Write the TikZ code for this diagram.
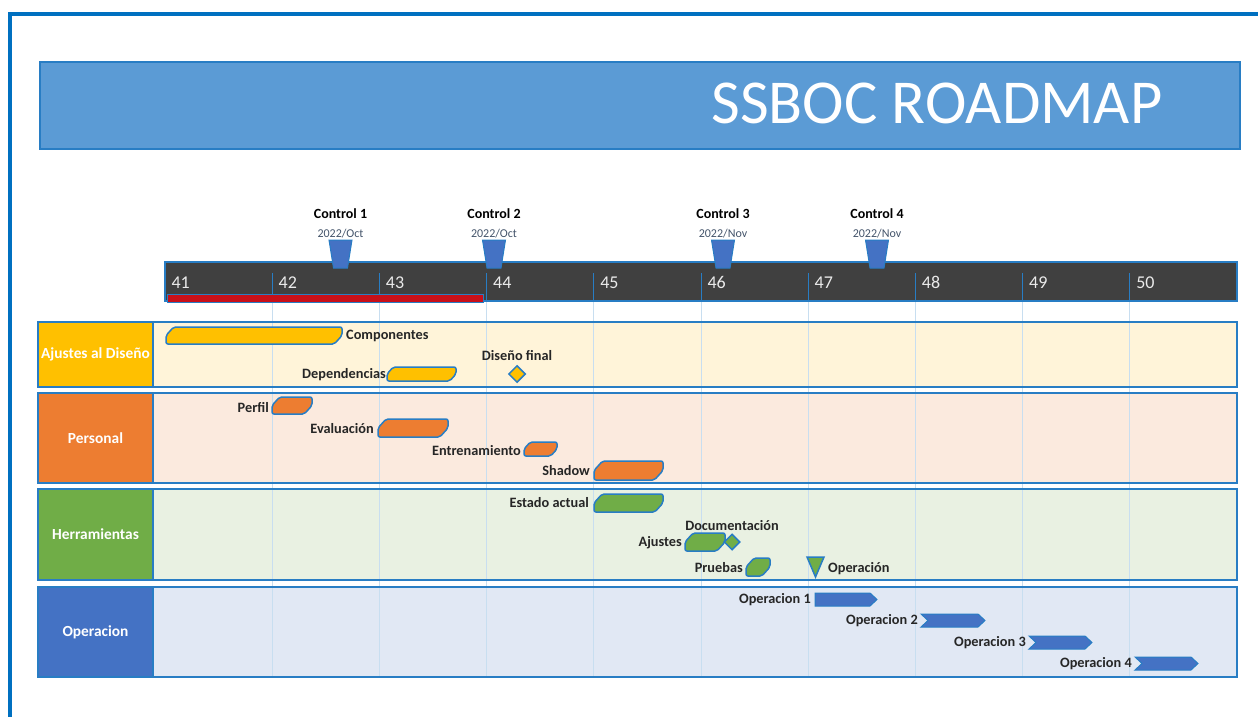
\documentclass[tikz,border=0pt]{standalone}
\usepackage{fontspec}
\setmainfont{Carlito}
\usetikzlibrary{shapes.geometric}

\definecolor{frame_blue}{RGB}{0,112,192}
\definecolor{edge_blue}{RGB}{40,125,196}
\definecolor{title_blue}{RGB}{91,155,213}
\definecolor{gate_blue}{RGB}{68,114,196}
\definecolor{date_gray}{RGB}{68,84,106}
\definecolor{head_gray}{RGB}{64,64,64}
\definecolor{late_red}{RGB}{200,16,26}
\definecolor{grid_blue}{RGB}{200,222,240}
\definecolor{design_yellow}{RGB}{255,192,0}
\definecolor{staff_orange}{RGB}{237,125,49}
\definecolor{tools_green}{RGB}{112,173,71}
\definecolor{ops_blue}{RGB}{68,114,196}
\definecolor{design_bg}{RGB}{255,244,217}
\definecolor{staff_bg}{RGB}{251,234,222}
\definecolor{tools_bg}{RGB}{233,241,226}
\definecolor{ops_bg}{RGB}{225,232,244}

\tikzset{
  bar_edge/.style={draw=edge_blue, line width=1.5pt, rounded corners=2pt},
  tasklabel/.style={font=\bfseries\fontsize{14.3}{16}\selectfont, text=black!85, inner sep=1pt},
  lanelabel/.style={font=\bfseries\fontsize{15.4}{17}\selectfont, text=white},
  weeklabel/.style={font=\fontsize{18}{20}\selectfont, text=white!92!black, anchor=west},
  gatelabel/.style={font=\bfseries\fontsize{14}{16}\selectfont},
  gatedate/.style={font=\fontsize{12}{14}\selectfont, text=date_gray},
  gate/.style={draw=edge_blue, line width=1pt, fill=gate_blue},
  keypoint/.style={diamond, draw=edge_blue, line width=1.5pt, inner sep=0pt, minimum size=17pt}
}

% task bar: colour, left, right, top, bottom
\newcommand{\taskbar}[5]{%
  \draw[bar_edge, fill=#1] ({#2+0.45*(#5-#4)},#4) -- (#3,#4) -- (#3,{0.5*(#4+#5)})
    -- ({#3-0.45*(#5-#4)},#5) -- (#2,#5) -- (#2,{0.5*(#4+#5)}) -- cycle;}
% operation chevron: left, right, top, bottom
\newcommand{\opbar}[4]{%
  \draw[draw=edge_blue, line width=1pt, fill=ops_blue] (#1,#3) -- ({#2-7},#3) -- (#2,{0.5*(#3+#4)})
    -- ({#2-7},#4) -- (#1,#4) -- ({#1+7},{0.5*(#3+#4)}) -- cycle;}

\begin{document}
\begin{tikzpicture}[x=1pt, y=-1pt]
    \useasboundingbox (0,0) rectangle (1258,717);

    % Frame
    \draw[frame_blue, line width=4pt] (10,717) -- (10,14) -- (1258,14);

    % Title
    \draw[draw=edge_blue, line width=1.5pt, fill=title_blue] (40,62) rectangle (1240,149);
    \node[text=white, font=\fontsize{62.5}{64}\selectfont] (title) at (937,103) {SSBOC ROADMAP};

    % Lanes - fills
    \fill[design_yellow] (38,322) rectangle (153,387);
    \fill[design_bg] (153,322) rectangle (1237,387);
    \fill[staff_orange] (38,393) rectangle (153,483);
    \fill[staff_bg] (153,393) rectangle (1237,483);
    \fill[tools_green] (38,489) rectangle (153,580);
    \fill[tools_bg] (153,489) rectangle (1237,580);
    \fill[ops_blue] (38,587) rectangle (153,677);
    \fill[ops_bg] (153,587) rectangle (1237,677);

    % Week grid
    \foreach \i in {1,...,9}
        \draw[grid_blue, line width=1pt] ({165+107.2*\i},302) -- ({165+107.2*\i},678);

    % Lanes - borders and names
    \foreach \top/\bot in {322/387, 393/483, 489/580, 587/677} {
        \draw[edge_blue, line width=2pt] (38,\top) rectangle (153,\bot);
        \draw[edge_blue, line width=2pt] (153,\top) rectangle (1237,\bot);
    }
    \node[lanelabel] (lane_design) at (95.5,354.5) {Ajustes al Diseño};
    \node[lanelabel] (lane_staff) at (95.5,438) {Personal};
    \node[lanelabel] (lane_tools) at (95.5,534.5) {Herramientas};
    \node[lanelabel] (lane_ops) at (95.5,632) {Operacion};

    % Week header
    \draw[edge_blue, line width=1.5pt, fill=head_gray] (165,262) rectangle (1237,301);
    \foreach \i in {1,...,9}
        \draw[edge_blue, line width=0.8pt] ({165+107.2*\i},273) -- ({165+107.2*\i},300);
    \foreach \w [count=\i from 0] in {41,...,50}
        \node[weeklabel] (week\w) at ({165+107.2*\i+3},282.5) {\w};
    \draw[edge_blue, line width=1pt, fill=late_red] (167,294) rectangle (483,302);

    % Controls
    \foreach \x/\n/\m in {340.5/1/Oct, 494/2/Oct, 723/3/Nov, 877/4/Nov} {
        \draw[gate] ({\x-11.5},240) -- ({\x+11.5},240) -- ({\x+7},268) -- ({\x-7},268) -- cycle;
        \node[gatelabel] (gate\n) at (\x,214) {Control \n};
        \node[gatedate] (date\n) at (\x,234) {2022/\m};
    }

    % Ajustes al Diseño
    \taskbar{design_yellow}{166}{342}{327}{344}
    \node[tasklabel, right] (componentes) at (345,336) {Componentes};
    \taskbar{design_yellow}{387}{456}{367}{381}
    \node[tasklabel, left] (dependencias) at (387,375) {Dependencias};
    \node[keypoint, fill=design_yellow] (disenio) at (517,374) {};
    \node[tasklabel] (disenio_lbl) at (517,356) {Diseño final};

    % Personal
    \taskbar{staff_orange}{272}{312}{397}{414}
    \node[tasklabel, left] (perfil) at (270,408) {Perfil};
    \taskbar{staff_orange}{378}{448}{419}{437}
    \node[tasklabel, left] (evaluacion) at (375,429) {Evaluación};
    \taskbar{staff_orange}{524}{557}{442}{456}
    \node[tasklabel, left] (entrenamiento) at (522,451) {Entrenamiento};
    \taskbar{staff_orange}{594}{663}{461}{480}
    \node[tasklabel, left] (shadow) at (591,471) {Shadow};

    % Herramientas
    \taskbar{tools_green}{594}{663}{494}{512}
    \node[tasklabel, left] (estado) at (590,503) {Estado actual};
    \taskbar{tools_green}{685}{725}{533}{551}
    \node[tasklabel, left] (ajustes) at (683,543) {Ajustes};
    \node[keypoint, fill=tools_green, minimum size=16pt] (documentacion) at (732,542) {};
    \node[tasklabel] (documentacion_lbl) at (732,526) {Documentación};
    \taskbar{tools_green}{746}{770}{558}{576}
    \node[tasklabel, left] (pruebas) at (744,568) {Pruebas};
    \draw[bar_edge, rounded corners=0pt, fill=tools_green] (807,557) -- (824,557) -- (815.5,577) -- cycle;
    \node[tasklabel, right] (operacion) at (827,569) {Operación};

    % Operacion
    \draw[draw=edge_blue, line width=1pt, fill=ops_blue] (815,593) -- (870,593) -- (877,599.5) -- (870,606) -- (815,606) -- cycle;
    \node[tasklabel, left] (op1) at (812,600) {Operacion 1};
    \opbar{921}{985}{614}{627}
    \node[tasklabel, left] (op2) at (919,621) {Operacion 2};
    \opbar{1029}{1092}{636}{649}
    \node[tasklabel, left] (op3) at (1027,643) {Operacion 3};
    \opbar{1135}{1198}{657}{670}
    \node[tasklabel, left] (op4) at (1133,664) {Operacion 4};
\end{tikzpicture}
\end{document}
